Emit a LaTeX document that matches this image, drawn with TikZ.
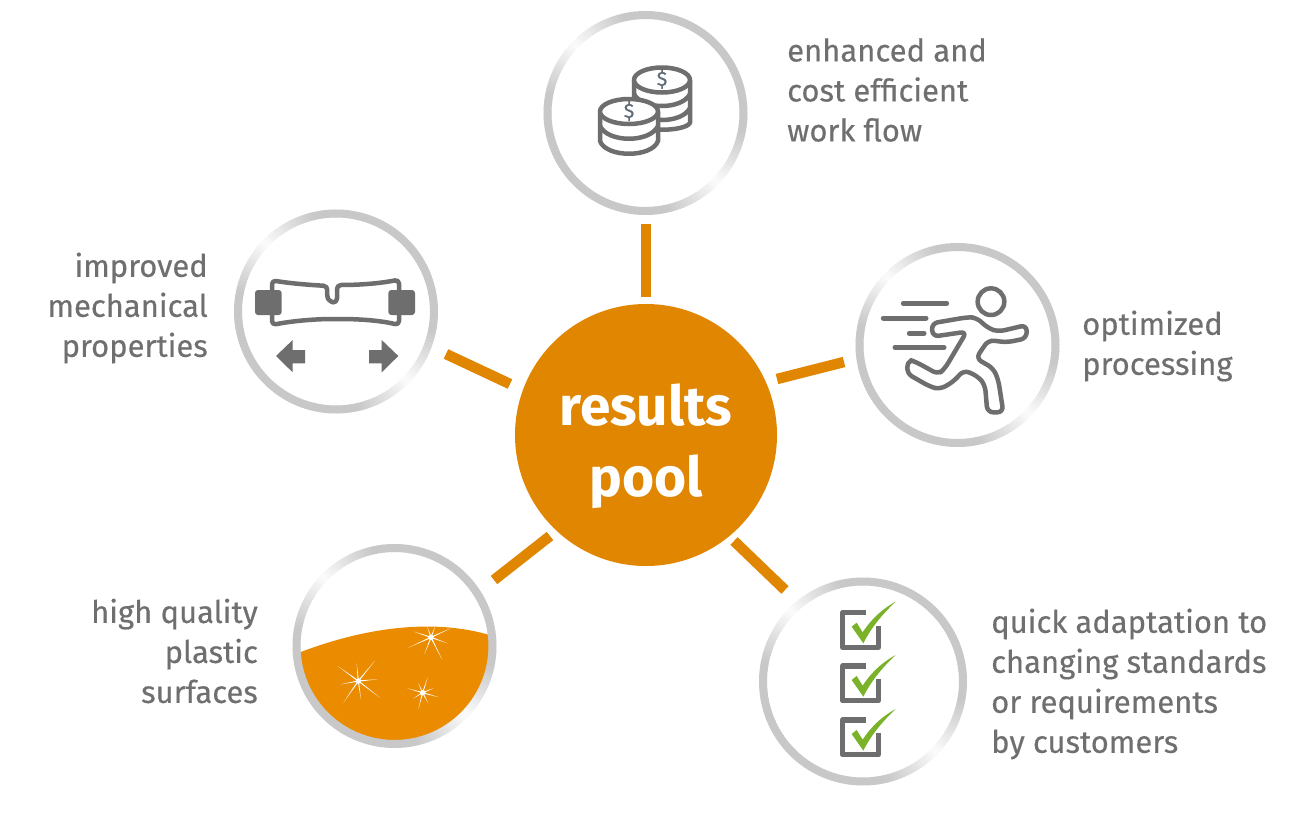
\documentclass[tikz,border=0pt]{standalone}
\usepackage{fontspec}
\setmainfont{Fira Sans}
\newfontfamily\labfont{Fira Sans}[FakeBold=0.35]
\usetikzlibrary{calc}
\definecolor{hubor}{HTML}{E08600}
\definecolor{surfor}{HTML}{EB8C00}
\definecolor{icon}{HTML}{6E6E6E}
\definecolor{txt}{HTML}{6F6F6F}
\definecolor{tick}{HTML}{7AB32A}
\definecolor{dollar}{HTML}{5F6B75}
\tikzset{
  bar/.style={draw=hubor,line width=10.5pt,line cap=butt},
  lab/.style={text=txt,font=\labfont\fontsize{31}{40}\selectfont,inner sep=0pt},
  ringnode/.style={circle,inner sep=0pt,minimum size=#1},
  iconline/.style={draw=icon,line width=4.5pt,line join=round},
  speed/.style={draw=icon,line width=5pt,line cap=round},
  boxline/.style={draw=icon,line width=5.5pt,line join=round,line cap=butt},
}
\newcommand{\ringdraw}[3]{%
  \foreach \a in {0,2,...,358}{%
    \pgfmathsetmacro{\tt}{min(1,abs(cos(\a-45))*1.8)}%
    \pgfmathtruncatemacro{\gv}{200+52*(1-\tt)}%
    \draw[draw={rgb,255:red,\gv;green,\gv;blue,\gv},line width=8pt,line cap=butt]
      ({#1+#3*cos(\a)},{#2-#3*sin(\a)}) -- ({#1+#3*cos(\a+2.4)},{#2-#3*sin(\a+2.4)});
  }%
}
\newcommand{\spikes}[2]{%
  \foreach \tp in {#2}{%
    \fill[white] ($#1!1.9pt!90:\tp$) -- \tp -- ($#1!1.9pt!-90:\tp$) -- cycle;
  }%
  \fill[white] #1 circle (8);
}
\newcommand{\checkbox}[1]{%
  \begin{scope}[shift={(0,#1)}]
    \draw[boxline] (333,113) -- (263,113) -- (263,217) -- (370,217) -- (370,152);
    \fill[tick] (290,155) -- (305,143) -- (323,172) .. controls (350,130) and (385,100) .. (422,80)
      .. controls (385,115) and (350,155) .. (325,205) -- cycle;
  \end{scope}
}
\begin{document}
\begin{tikzpicture}[x=1pt,y=-1pt]
\useasboundingbox (0,0) rectangle (1302,817);
\fill[white] (0,0) rectangle (1302,817);

% hub
\node[circle,fill=hubor,minimum size=262pt,inner sep=0pt] (hub) at (646,435) {};
\node[text=white,align=center,inner sep=0pt,
  font=\fontsize{55}{71}\selectfont\bfseries] (hubtext) at (646,446) {results\\pool};

% ring nodes
\node[ringnode=204pt] (coins) at (645.5,113) {};
\node[ringnode=204pt] (tensile) at (336,311.5) {};
\node[ringnode=204pt] (runner) at (957.5,345) {};
\node[ringnode=204pt] (surface) at (394.5,646) {};
\node[ringnode=208pt] (checks) at (863,681.5) {};

% orange surface (below ring)
\begin{scope}
  \clip (394.5,646) circle (95.5pt);
  \begin{scope}[shift={(290,540)},scale=1/3]
    \fill[surfor] (35,335) .. controls (220,265) and (420,235) .. (592,283) -- (640,283) -- (640,640) -- (0,640) -- (0,335) -- cycle;
    \spikes{(205,423)}{(143,378),(200,370),(255,362),(263,418),(270,473),(213,478),(160,488),(152,433)}
    \spikes{(423,292)}{(372,275),(412,260),(435,260),(482,265),(473,310),(457,360),(403,343),(355,323)}
    \spikes{(398,458)}{(352,445),(413,413),(385,430),(430,445),(447,472),(415,490),(385,507),(370,475)}
  \end{scope}
\end{scope}

\ringdraw{645.5}{113}{98}
\ringdraw{336}{311.5}{98}
\ringdraw{957.5}{345}{98}
\ringdraw{394.5}{646}{98}
\ringdraw{863}{681.5}{100}

% connectors
\coordinate (c1a) at (646,297); \coordinate (c1b) at (646,224);
\coordinate (c2a) at (777,379); \coordinate (c2b) at (844,362);
\coordinate (c3a) at (734,541); \coordinate (c3b) at (785,590);
\coordinate (c4a) at (550,536); \coordinate (c4b) at (494,580);
\coordinate (c5a) at (510,384); \coordinate (c5b) at (446,354);
\draw[bar] (c1a) -- (c1b);
\draw[bar] (c2a) -- (c2b);
\draw[bar] (c3a) -- (c3b);
\draw[bar] (c4a) -- (c4b);
\draw[bar] (c5a) -- (c5b);

% coins
\begin{scope}
  \draw[iconline,fill=white] (634,80) -- (634,123) .. controls (640,132) and (684,132) .. (690,123) -- (690,80);
  \draw[iconline,fill=white] (662,80) ellipse (28pt and 12.5pt);
  \draw[iconline] (634,94) .. controls (642,110) and (682,110) .. (690,94);
  \draw[iconline] (634,108) .. controls (642,124) and (682,124) .. (690,108);
  \node[text=dollar,font=\labfont\fontsize{20}{20}\selectfont] (d1) at (662,79) {\$};
  \draw[iconline,fill=white] (600,111.5) -- (600,141) .. controls (606,158) and (652,158) .. (658,141) -- (658,111.5);
  \draw[iconline,fill=white] (629,111.5) ellipse (29pt and 12.5pt);
  \draw[iconline] (600,126) .. controls (608,143) and (650,143) .. (658,126);
  \node[text=dollar,font=\labfont\fontsize{20}{20}\selectfont] (d2) at (629,111) {\$};
\end{scope}

% tensile specimen
\begin{scope}[shift={(225,205)},scale=1/3]
  \draw[iconline,rounded corners=4pt]
    (141,226) .. controls (200,236) and (260,240) .. (308,243)
    -- (305,268) .. controls (310,285) and (322,292) .. (336,293)
    -- (336,240) .. controls (400,240) and (460,236) .. (522,224)
    -- (522,360) .. controls (460,345) and (390,342) .. (335,342)
    .. controls (270,342) and (200,348) .. (141,360) -- cycle;
  \fill[icon,rounded corners=3pt] (90,255) rectangle (170,330);
  \fill[icon,rounded corners=3pt] (490,255) rectangle (570,330);
  \fill[icon] (153,453) -- (203,405) -- (203,435) -- (240,435) -- (240,475) -- (203,475) -- (203,502) -- cycle;
  \fill[icon] (520,453) -- (470,405) -- (470,435) -- (432,435) -- (432,475) -- (470,475) -- (470,502) -- cycle;
\end{scope}

% runner
\begin{scope}[shift={(850,240)},scale=1/3]
  \draw[iconline] (423,185) circle (40);
  \draw[speed] (160,190) -- (290,190);
  \draw[speed] (100,234) -- (228,234);
  \draw[speed] (178,280) -- (222,280);
  \draw[speed] (135,322) -- (282,322);
  \draw[iconline,rounded corners=6pt]
    (245,250) -- (350,232) -- (378,232) -- (415,265) -- (445,275) -- (530,255) -- (530,295)
    -- (470,307) -- (415,300) -- (378,355) -- (430,385) -- (445,420) -- (460,517) -- (412,517)
    -- (405,435) -- (385,410) -- (342,390) -- (310,425) -- (270,448) -- (240,440) -- (170,400)
    -- (175,358) -- (200,367) -- (265,403) -- (285,385) -- (350,275) -- (248,290) -- cycle;
\end{scope}

% check boxes
\begin{scope}[shift={(755,575)},scale=1/3]
  \checkbox{0}
  \checkbox{160}
  \checkbox{322}
\end{scope}

% labels
\node[lab,anchor=west,align=left] (l1) at (787,90) {enhanced and\\cost efficient\\work flow};
\node[lab,anchor=west,align=left] (l2) at (1082,346) {optimized\\processing};
\node[lab,anchor=west,align=left] (l3) at (991,684) {quick adaptation to\\changing standards\\or requirements\\by customers};
\node[lab,anchor=east,align=right] (l4) at (258,651) {high quality\\plastic\\surfaces};
\node[lab,anchor=east,align=right] (l5) at (208,308) {improved\\mechanical\\properties};
\end{tikzpicture}
\end{document}
